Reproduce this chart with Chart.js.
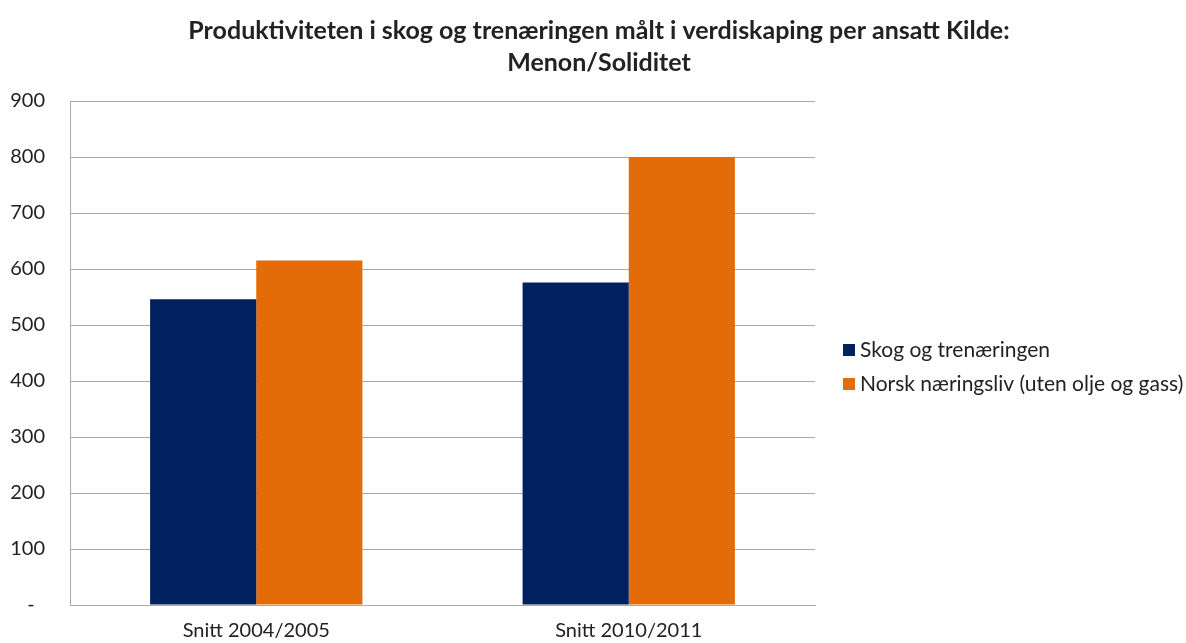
<!DOCTYPE html>
<html>
<head>
<meta charset="utf-8">
<script src="https://cdn.jsdelivr.net/npm/chart.js@4"></script>
<style>
  html, body { margin: 0; padding: 0; background: #fff; }
  #wrap { width: 1186px; height: 643px; }
</style>
</head>
<body>
<div id="wrap"><canvas id="chart" width="1186" height="643"></canvas></div>
<script>
// data
const categories = ['Snitt 2004/2005', 'Snitt 2010/2011'];
const seriesNames = ['Skog og trenæringen', 'Norsk næringsliv (uten olje og gass)'];
const skogValues = [546, 576];
const norskValues = [615, 800];
const yTicks = [0, 100, 200, 300, 400, 500, 600, 700, 800, 900];
const titleLines = ['Produktiviteten i skog og trenæringen målt i verdiskaping per ansatt Kilde:', 'Menon/Soliditet'];

const FONT = 'Lato, "Open Sans", sans-serif';

// title centred on the whole picture and legend on the right, drawn by hand
const decorations = {
    id: 'decorations',
    afterDraw(chart) {
        const ctx = chart.ctx;
        ctx.save();
        ctx.textBaseline = 'middle';

        ctx.font = 'bold 25px ' + FONT;
        ctx.textAlign = 'center';
        ctx.fillStyle = '#222';
        titleLines.forEach((line, i) => ctx.fillText(line, 599, 31 + i * 32));

        ctx.font = '21px ' + FONT;
        ctx.textAlign = 'left';
        chart.data.datasets.forEach((ds, i) => {
            const y = 350 + i * 34;
            ctx.fillStyle = ds.backgroundColor;
            ctx.fillRect(843, y - 6, 12, 12);
            ctx.fillStyle = '#222';
            ctx.fillText(ds.label, 860, y);
        });
        ctx.restore();
    }
};

new Chart(document.getElementById('chart'), {
    type: 'bar',
    data: {
        labels: categories,
        datasets: [
            {
                label: seriesNames[0],
                data: skogValues,
                backgroundColor: '#002060',
                categoryPercentage: 0.57,
                barPercentage: 1.0
            },
            {
                label: seriesNames[1],
                data: norskValues,
                backgroundColor: '#E36C09',
                categoryPercentage: 0.57,
                barPercentage: 1.0
            }
        ]
    },
    options: {
        responsive: false,
        animation: false,
        layout: { padding: { left: 10, right: 371, top: 101, bottom: 0 } },
        scales: {
            x: {
                afterFit: function(axis) {
                    axis.height = 38;
                },
                grid: { display: false, drawTicks: false },
                border: { display: true, color: '#aaaaaa', width: 1 },
                ticks: { color: '#222', font: { family: FONT, size: 20 }, padding: 14 }
            },
            y: {
                min: 0,
                max: 900,
                afterBuildTicks: function(axis) {
                    axis.ticks = yTicks.map(v => ({ value: v }));
                },
                afterFit: function(axis) {
                    axis.width = 60;
                },
                grid: { color: '#aaaaaa', lineWidth: 1, drawTicks: false },
                border: { display: true, color: '#aaaaaa', width: 1 },
                ticks: {
                    color: '#222',
                    font: { family: FONT, size: 20 },
                    padding: 25,
                    callback: function(value) {
                        return value === 0 ? '-  ' : value;
                    }
                }
            }
        },
        plugins: {
            title: { display: false },
            legend: { display: false },
            tooltip: { enabled: false }
        }
    },
    plugins: [decorations]
});
</script>
</body>
</html>
